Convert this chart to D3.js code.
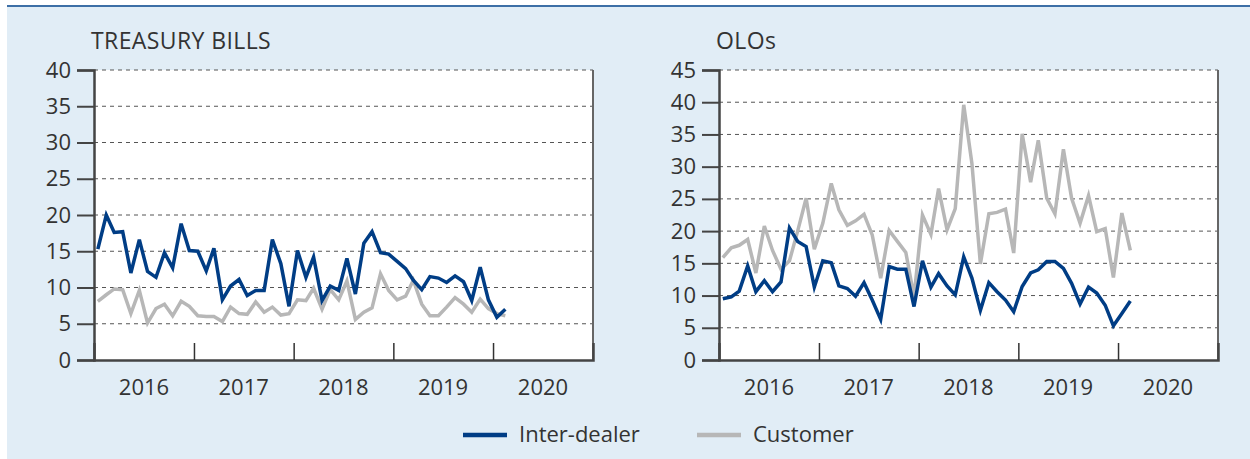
<!DOCTYPE html>
<html lang="en">
<head>
<meta charset="utf-8">
<title>Treasury bills and OLOs</title>
<script src="https://cdn.jsdelivr.net/npm/d3@7"></script>
<style>
  body { margin: 0; background: #fff; }
  svg { display: block; font-family: "Open Sans", sans-serif; }
</style>
</head>
<body>
<svg id="chart" width="1250" height="459"></svg>
<script>
// monthly observations, Jan 2016 .. Feb 2020
const months = d3.range(50).map(i => new Date(2016, i, 15));
const years = [2016, 2017, 2018, 2019, 2020];

const tbInter = [15.3, 20.0, 17.6, 17.7, 12.0, 16.6, 12.2, 11.4, 14.8, 12.7, 18.8, 15.1,
  15.0, 12.3, 15.4, 8.3, 10.2, 11.1, 8.9, 9.6, 9.6, 16.6, 13.3, 7.4,
  15.1, 11.4, 14.2, 8.2, 10.2, 9.6, 14.0, 9.1, 16.1, 17.7, 14.8, 14.6,
  13.6, 12.6, 11.0, 9.7, 11.5, 11.3, 10.7, 11.6, 10.8, 8.2, 12.8, 8.3,
  5.9, 7.0];
const tbCust = [8.1, 9.0, 9.8, 9.7, 6.4, 9.6, 5.1, 7.1, 7.7, 6.1, 8.1, 7.4,
  6.1, 6.0, 6.0, 5.3, 7.3, 6.4, 6.3, 8.0, 6.6, 7.3, 6.2, 6.4,
  8.3, 8.2, 9.9, 7.0, 9.7, 8.3, 10.9, 5.6, 6.6, 7.2, 11.9, 9.6,
  8.3, 8.8, 11.0, 7.7, 6.1, 6.1, 7.3, 8.6, 7.7, 6.6, 8.4, 7.1,
  6.4, 6.1];
const oloInter = [9.5, 9.8, 10.7, 14.6, 10.6, 12.3, 10.6, 12.1, 20.5, 18.4, 17.6, 11.3,
  15.4, 15.1, 11.5, 11.1, 9.9, 12.0, 9.3, 6.3, 14.5, 14.1, 14.1, 8.3,
  15.4, 11.3, 13.4, 11.5, 10.1, 16.0, 12.7, 7.7, 12.0, 10.6, 9.3, 7.5,
  11.4, 13.5, 14.0, 15.3, 15.3, 14.2, 11.9, 8.7, 11.3, 10.4, 8.5, 5.3,
  7.2, 9.15];
const oloCust = [15.9, 17.4, 17.8, 18.7, 13.5, 20.8, 17.0, 14.1, 15.4, 20.0, 25.1, 17.2,
  21.2, 27.4, 23.3, 20.9, 21.6, 22.6, 19.4, 12.7, 20.1, 18.4, 16.7, 9.8,
  22.5, 19.5, 26.6, 20.2, 23.5, 39.6, 30.5, 14.9, 22.7, 22.9, 23.4, 16.6,
  35.1, 27.6, 34.1, 25.1, 22.7, 32.7, 25.1, 21.2, 25.5, 19.9, 20.4, 12.8,
  22.8, 17.0];

const panels = [
  { title: 'TREASURY BILLS', left: 94, yMax: 40, inter: tbInter, cust: tbCust },
  { title: 'OLOs', left: 719, yMax: 45, inter: oloInter, cust: oloCust }
];

const blue = '#003d85', grey = '#b7b7b7', ink = '#333';
const plotTop = 70, plotBottom = 360, plotW = 499;

const svg = d3.select('#chart');

svg.append('rect')
  .attr('x', 7).attr('y', 7).attr('width', 1243).attr('height', 452)
  .attr('fill', '#e1edf6');
svg.append('line')
  .attr('x1', 7).attr('x2', 1250).attr('y1', 6).attr('y2', 6)
  .attr('stroke', '#3d6fa6').attr('stroke-width', 2);

panels.forEach(p => {
  const g = svg.append('g');

  const x = d3.scaleTime()
    .domain([new Date(2016, 0, 1), new Date(2021, 0, 1)])
    .range([p.left, p.left + plotW]);
  const y = d3.scaleLinear()
    .domain([0, p.yMax])
    .range([plotBottom, plotTop]);

  g.append('rect')
    .attr('x', p.left).attr('y', plotTop)
    .attr('width', plotW).attr('height', plotBottom - plotTop)
    .attr('fill', '#fff');

  // dashed grid
  g.selectAll('.grid')
    .data(d3.range(5, p.yMax + 1, 5))
    .enter().append('line')
    .attr('x1', p.left).attr('x2', p.left + plotW)
    .attr('y1', d => y(d)).attr('y2', d => y(d))
    .attr('stroke', '#555').attr('stroke-width', 1)
    .attr('stroke-dasharray', '4,4');

  // right border
  g.append('line')
    .attr('x1', p.left + plotW).attr('x2', p.left + plotW)
    .attr('y1', plotTop).attr('y2', plotBottom)
    .attr('stroke', '#666').attr('stroke-width', 2);

  const yAxis = g.append('g')
    .attr('transform', `translate(${p.left},0)`)
    .call(d3.axisLeft(y).tickValues(d3.range(0, p.yMax + 1, 5)).tickSize(17).tickPadding(6));
  yAxis.select('.domain').attr('stroke', '#444').attr('stroke-width', 2.5);
  yAxis.selectAll('.tick line').attr('stroke', '#444').attr('stroke-width', 2);
  yAxis.selectAll('.tick text')
    .attr('fill', ink).style('font-size', '22px').style('font-family', '"Open Sans", sans-serif');

  const xAxis = g.append('g')
    .attr('transform', `translate(0,${plotBottom})`)
    .call(d3.axisBottom(x)
      .tickValues(years.slice(1).map(yr => new Date(yr, 0, 1)))
      .tickSize(-17).tickFormat(''));
  xAxis.select('.domain').attr('stroke', '#444').attr('stroke-width', 2.5);
  xAxis.selectAll('.tick line').attr('stroke', '#333').attr('stroke-width', 1.5);

  g.selectAll('.year')
    .data(years)
    .enter().append('text')
    .attr('x', d => x(new Date(d, 6, 2)))
    .attr('y', 395)
    .attr('text-anchor', 'middle')
    .attr('fill', ink).style('font-size', '22px')
    .text(d => d);

  g.append('text')
    .attr('x', p.left - 3).attr('y', 49)
    .attr('fill', ink).style('font-size', '23px')
    .style('letter-spacing', '0.4px')
    .text(p.title);

  const line = d3.line()
    .x((d, i) => x(months[i]))
    .y(d => y(d));

  g.append('path')
    .datum(p.cust)
    .attr('d', line)
    .attr('fill', 'none').attr('stroke', grey).attr('stroke-width', 3.5)
    .attr('stroke-linejoin', 'miter');
  g.append('path')
    .datum(p.inter)
    .attr('d', line)
    .attr('fill', 'none').attr('stroke', blue).attr('stroke-width', 3.5)
    .attr('stroke-linejoin', 'miter');
});

// legend
const legend = [
  { name: 'Inter-dealer', color: blue, x: 463 },
  { name: 'Customer', color: grey, x: 697 }
];
const lg = svg.append('g').selectAll('g')
  .data(legend)
  .enter().append('g')
  .attr('transform', d => `translate(${d.x},435)`);
lg.append('line')
  .attr('x1', 0).attr('x2', 44)
  .attr('stroke', d => d.color).attr('stroke-width', 4.5);
lg.append('text')
  .attr('x', 56).attr('y', 7)
  .attr('fill', ink).style('font-size', '22px')
  .text(d => d.name);
</script>
</body>
</html>
